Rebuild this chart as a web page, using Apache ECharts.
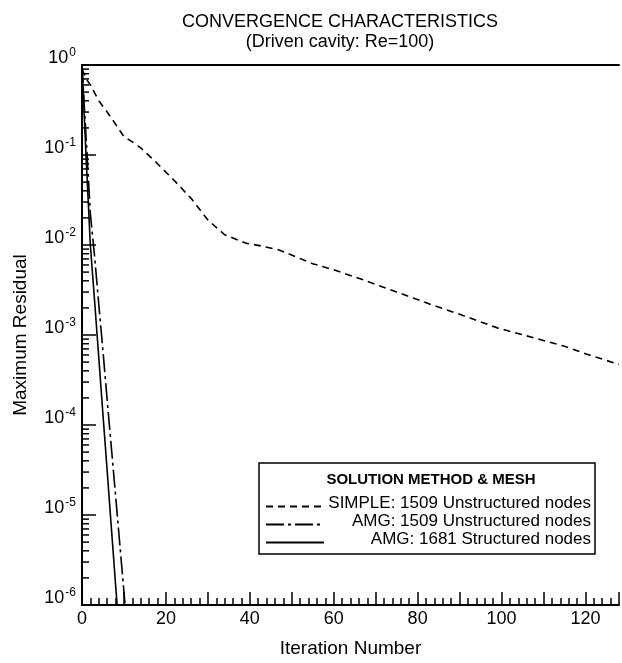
<!DOCTYPE html>
<html><head><meta charset="utf-8">
<script src="https://cdn.jsdelivr.net/npm/echarts@6/dist/echarts.min.js"></script>
<style>html,body{margin:0;padding:0;background:#fff}#c{width:622px;height:663px}</style>
</head><body><div id="c"></div>
<script>
const simpleIter = [0,1,2,4,6,8,10,12,14,18,22,26,30,34,39,43,47,55,60,67,75,83,90,99,107,115,120,128];
const simpleRes  = [0.9,0.7,0.6,0.4,0.3,0.22,0.16,0.14,0.12,0.08,0.052,0.033,0.019,0.013,0.0105,0.0097,0.0088,0.0062,0.0053,0.0041,0.003,0.0022,0.0017,0.0012,0.00095,0.00075,0.00062,0.00047];
const amgUIter = [0,1,2,3,4,5,6,7,8,9,10,11];
const amgURes  = [1,0.15,0.022,7.5e-3,2.2e-3,6.6e-4,1.9e-4,5.6e-5,1.65e-5,4.8e-6,1.4e-6,4.2e-7];
const amgSIter = [0,1,2,3,4,5,6,7,8,9];
const amgSRes  = [1,0.09,0.0098,2.4e-3,5.6e-4,1.3e-4,3.1e-5,7.2e-6,1.7e-6,4e-7];
const seriesNames = ['SIMPLE: 1509 Unstructured nodes','AMG: 1509 Unstructured nodes','AMG: 1681 Structured nodes'];
const minorTickVals = [];
for (let e = -6; e <= -1; e++) for (let k = 2; k <= 9; k++) minorTickVals.push(k * Math.pow(10, e));

const FONT = "'Liberation Sans', Arial, Helvetica, sans-serif";
const zip = (a, b) => a.map((v, i) => [v, b[i]]);
const chart = echarts.init(document.getElementById('c'), null, {renderer: 'canvas'});
chart.setOption({
  animation: false,
  backgroundColor: '#fff',
  textStyle: {fontFamily: FONT, color: '#000'},
  title: [
    {text: 'CONVERGENCE CHARACTERISTICS\n(Driven cavity: Re=100)', left: 335, top: 7, textAlign: 'center',
     textStyle: {fontFamily: FONT, fontSize: 18, fontWeight: 'normal', color: '#000', lineHeight: 20}},
    {text: 'SOLUTION METHOD & MESH', left: 426, top: 467, textAlign: 'center',
     textStyle: {fontFamily: FONT, fontSize: 15, fontWeight: 'bold', color: '#000'}}
  ],
  grid: {left: 82, top: 65, right: 0, bottom: 51},
  legend: {
    orient: 'vertical', left: 259, top: 463,
    padding: [32, 4, 0, 6], itemGap: -5, itemWidth: 58, itemHeight: 14,
    borderColor: '#000', borderWidth: 1.5, backgroundColor: '#fff',
    data: seriesNames,
    itemStyle: {color: 'rgba(0,0,0,0)', borderWidth: 0, opacity: 0},
    formatter: name => '{r|' + name + '}',
    textStyle: {fontFamily: FONT, fontSize: 17, color: '#000',
      rich: {r: {fontFamily: FONT, fontSize: 17, color: '#000', width: 262, align: 'right', lineHeight: 18, padding: [0, 0, 6, 0]}}}
  },
  xAxis: [{
    type: 'value', min: 0, max: 128, interval: 10,
    name: 'Iteration Number', nameLocation: 'middle', nameGap: 34,
    nameTextStyle: {fontFamily: FONT, fontSize: 19, color: '#000'},
    axisLine: {lineStyle: {color: '#000', width: 2}},
    axisTick: {inside: true, length: 13, lineStyle: {color: '#000', width: 1.5}},
    minorTick: {show: true, splitNumber: 5, length: 7, lineStyle: {color: '#000', width: 1.5}},
    axisLabel: {fontFamily: FONT, fontSize: 18, color: '#000', margin: 5,
      formatter: v => (v % 20 === 0 ? String(v) : '')},
    splitLine: {show: false}
  }, {
    type: 'value', position: 'top', min: 0, max: 128,
    axisLine: {show: true, onZero: false, lineStyle: {color: '#000', width: 2}},
    axisTick: {show: false}, axisLabel: {show: false}, splitLine: {show: false}
  }],
  yAxis: {
    type: 'log', logBase: 10, min: 1e-6, max: 1, interval: 1,
    name: 'Maximum Residual', nameLocation: 'middle', nameGap: 52, nameRotate: 90,
    nameTextStyle: {fontFamily: FONT, fontSize: 19, color: '#000'},
    axisLine: {lineStyle: {color: '#000', width: 2}},
    axisTick: {inside: true, length: 14, lineStyle: {color: '#000', width: 1.5}},
    axisLabel: {
      margin: 6, verticalAlign: 'bottom',
      formatter: v => '{b|10}{s|' + Math.round(Math.log10(v)) + '}',
      rich: {
        b: {fontFamily: FONT, fontSize: 18, color: '#000', lineHeight: 18, verticalAlign: 'bottom', padding: [0, 0, -2, 0]},
        s: {fontFamily: FONT, fontSize: 12, color: '#000', lineHeight: 18, verticalAlign: 'top', padding: [0, 0, 6, 1]}
      }
    },
    splitLine: {show: false}
  },
  series: [
    {name: seriesNames[0], type: 'line', data: zip(simpleIter, simpleRes), showSymbol: false, symbol: 'none',
     lineStyle: {color: '#000', width: 1.6, type: [7, 5]}, itemStyle: {color: '#000'}},
    {name: seriesNames[1], type: 'line', data: zip(amgUIter, amgURes), showSymbol: false, symbol: 'none',
     lineStyle: {color: '#000', width: 1.6, type: [18, 4, 3, 4]}, itemStyle: {color: '#000'}},
    {name: seriesNames[2], type: 'line', data: zip(amgSIter, amgSRes), showSymbol: false, symbol: 'none',
     lineStyle: {color: '#000', width: 1.6}, itemStyle: {color: '#000'}},
    {type: 'custom', silent: true, data: minorTickVals.map(v => [0, v]),
     renderItem: (params, api) => {
       const p = api.coord([0, api.value(1)]);
       return {type: 'line', shape: {x1: p[0], y1: p[1], x2: p[0] + 7, y2: p[1]},
               style: {stroke: '#000', lineWidth: 1.5}};
     }}
  ]
});
</script></body></html>
